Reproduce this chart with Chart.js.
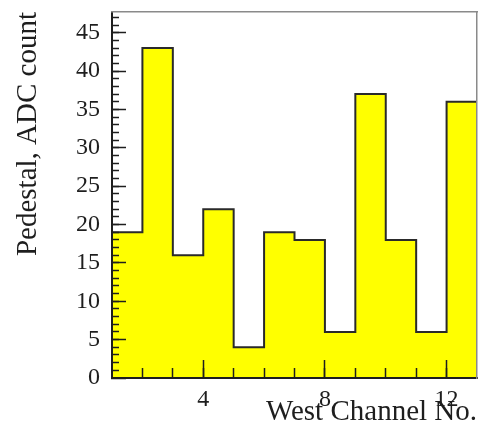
<!DOCTYPE html>
<html>
<head>
<meta charset="utf-8">
<script src="https://cdn.jsdelivr.net/npm/chart.js@4.4.1/dist/chart.umd.min.js"></script>
<style>
  html, body { margin: 0; padding: 0; background: #fff; }
</style>
</head>
<body>
<canvas id="pedestal_chart" width="478" height="432"></canvas>
<script>
// low edge of each channel bin (bins are 1 wide) and its pedestal
const channels = [1, 2, 3, 4, 5, 6, 7, 8, 9, 10, 11, 12];
const pedestal = [19, 43, 16, 22, 4, 19, 18, 6, 37, 18, 6, 36];
const xTickLabels = [4, 8, 12];
const yTickLabels = [0, 5, 10, 15, 20, 25, 30, 35, 40, 45];
const xMinorTicks = [2, 3, 4, 5, 6, 7, 8, 9, 10, 11, 12];
const yMinorTicks = [];
for (let v = 1; v <= 47; v++) yMinorTicks.push(v);

const xMin = 1, xMax = 13, yMax = 47.7;
const ink = "#1e1e1e";
const serif = "'Liberation Serif', 'DejaVu Serif', serif";

// stepped outline: up from zero at the first edge, down to zero at the last
const points = [{ x: channels[0], y: 0 }];
channels.forEach((c, i) => points.push({ x: c, y: pedestal[i] }));
points.push({ x: xMax, y: pedestal[pedestal.length - 1] });
points.push({ x: xMax, y: 0 });

const fixSize = (size) => (scale) => {
    if (scale.isHorizontal()) scale.height = size; else scale.width = size;
    scale.paddingLeft = scale.paddingRight = scale.paddingTop = scale.paddingBottom = 0;
};
const setTicks = (values) => (scale) => {
    scale.ticks = values.map(v => ({ value: v }));
};
const tickGrid = (len) => ({
    drawOnChartArea: false, drawTicks: true, tickLength: -len,
    tickColor: ink, tickWidth: 1.5, z: 1,
});

const ctx = document.getElementById("pedestal_chart").getContext("2d");
new Chart(ctx, {
    type: "line",
    data: {
        datasets: [{
            data: points,
            stepped: "before",
            fill: "origin",
            backgroundColor: "#ffff00",
            borderColor: "#2a2a2a",
            borderWidth: 2,
            pointRadius: 0,
            xAxisID: "x",
            yAxisID: "y",
        }],
    },
    options: {
        responsive: false,
        animation: false,
        events: [],
        layout: { autoPadding: false, padding: { top: 12, right: 1, bottom: 0, left: 0 } },
        plugins: { legend: { display: false }, tooltip: { enabled: false } },
        scales: {
            x: {
                type: "linear", position: "bottom", min: xMin, max: xMax, weight: 1,
                afterBuildTicks: setTicks(xTickLabels), afterFit: fixSize(54),
                grid: tickGrid(18),
                border: { color: ink, width: 2, z: 2 },
                ticks: { autoSkip: false, maxRotation: 0, padding: 25, color: ink,
                    font: { family: serif, size: 24 } },
                title: { display: true, text: "West Channel No.", align: "end", color: ink,
                    font: { family: serif, size: 29, lineHeight: 1.2 }, padding: { top: 0, bottom: 2 } },
            },
            xMinor: {
                type: "linear", position: "bottom", min: xMin, max: xMax, weight: 0,
                afterBuildTicks: setTicks(xMinorTicks), afterFit: fixSize(0),
                grid: tickGrid(10), border: { display: false }, ticks: { display: false },
            },
            y: {
                type: "linear", position: "left", min: 0, max: yMax, weight: 1,
                afterBuildTicks: setTicks(yTickLabels), afterFit: fixSize(112),
                grid: tickGrid(14),
                border: { color: ink, width: 2, z: 2 },
                ticks: { autoSkip: false, padding: 26, color: ink,
                    font: { family: serif, size: 24 } },
                title: { display: true, text: "Pedestal, ADC count", align: "end", color: ink,
                    font: { family: serif, size: 29, lineHeight: 1.2 }, padding: { top: 11, bottom: 0 } },
            },
            yMinor: {
                type: "linear", position: "left", min: 0, max: yMax, weight: 0,
                afterBuildTicks: setTicks(yMinorTicks), afterFit: fixSize(0),
                grid: tickGrid(7), border: { display: false }, ticks: { display: false },
            },
            xTop: {
                type: "linear", position: "top", min: xMin, max: xMax, afterFit: fixSize(0),
                grid: { drawOnChartArea: false, drawTicks: false },
                ticks: { display: false }, border: { color: "#8a8a8a", width: 1.5, z: 2 },
            },
            yRight: {
                type: "linear", position: "right", min: 0, max: yMax, afterFit: fixSize(0),
                grid: { drawOnChartArea: false, drawTicks: false },
                ticks: { display: false }, border: { color: "#8a8a8a", width: 1.5, z: 2 },
            },
        },
    },
});
</script>
</body>
</html>
